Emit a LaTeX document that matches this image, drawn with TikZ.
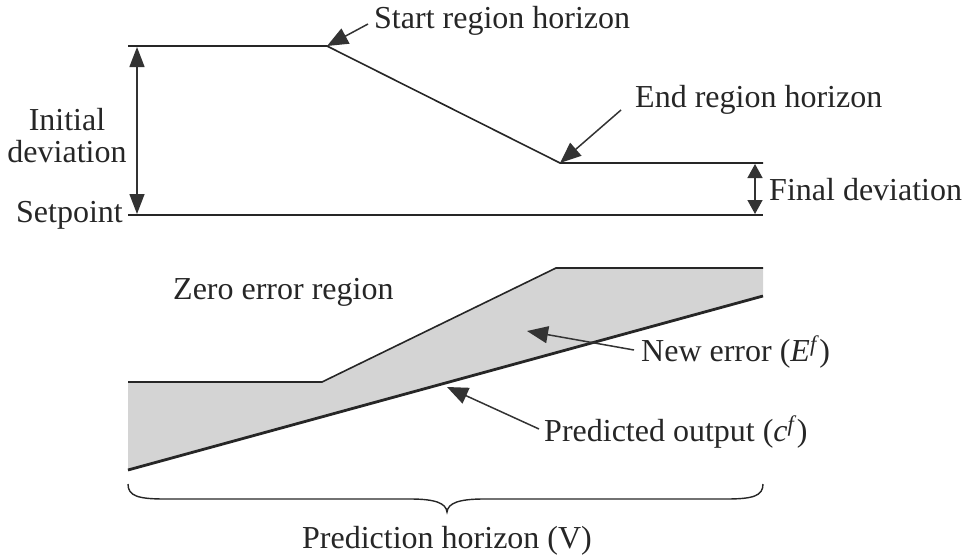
\documentclass[tikz,border=0pt]{standalone}
\usepackage{fontspec}
\setmainfont{Liberation Serif}
\usetikzlibrary{arrows.meta}
\begin{document}
\begin{tikzpicture}[x=1pt,y=-1pt,
  lbl/.style={font=\fontsize{32}{36}\selectfont,inner sep=0pt,text=black!85},
  thin line/.style={line width=1.6pt,black!85},
  thick line/.style={line width=2.8pt,black!85},
  tip/.style={-{Triangle[length=21pt,width=17pt]},line width=1.5pt,black!80},
  dtip/.style={{Triangle[length=20pt,width=15pt]}-{Triangle[length=20pt,width=15pt]},line width=1.4pt,black!80},
  stip/.style={{Triangle[length=14pt,width=15pt]}-{Triangle[length=14pt,width=15pt]},line width=1.4pt,black!80}]
\useasboundingbox (0,0) rectangle (968,557);
% key points
\coordinate (tl) at (128,46);
\coordinate (sr) at (327,46);
\coordinate (er) at (560,163);
\coordinate (tr) at (763,163);
\coordinate (spl) at (128,215);
\coordinate (spr) at (763,215);
\coordinate (ul) at (128,382);
\coordinate (uk) at (322,382);
\coordinate (uk2) at (556,268);
\coordinate (ur) at (763,268);
\coordinate (pl) at (128,470);
\coordinate (pr) at (763,296);
% shaded region
\fill[black!17] (ul) -- (uk) -- (uk2) -- (ur) -- (pr) -- (pl) -- cycle;
% upper plot
\draw[thin line] (tl) -- (sr) -- (er) -- (tr);
\draw[thick line] (spl) -- (spr);
\draw[thin line] (ul) -- (uk) -- (uk2) -- (ur);
\draw[thick line] (pl) -- (pr);
% deviation arrows
\coordinate (ida) at (137,47);
\coordinate (idb) at (137,214);
\draw[dtip] (ida) -- (idb);
\coordinate (fda) at (755,164);
\coordinate (fdb) at (755,214);
\draw[stip] (fda) -- (fdb);
% labels
\node[lbl,anchor=west] (start) at (374,21) {Start region horizon};
\node[lbl,anchor=west] (end) at (635,100) {End region horizon};
\node[lbl,align=center] (init) at (67,136) {Initial\\[-4pt]deviation};
\node[lbl,anchor=east] (setp) at (123,215) {Setpoint};
\node[lbl,anchor=west] (fin) at (769,190) {Final deviation};
\node[lbl,anchor=west] (zero) at (173,292) {Zero error region};
\node[lbl,anchor=west] (newe) at (641,352) {New error (\textit{E}\textsuperscript{\textit{f}})};
\node[lbl,anchor=west] (pred) at (544,432) {Predicted output (\textit{c}\textsuperscript{\textit{f}})};
\node[lbl] (ph) at (447,541) {Prediction horizon (V)};
% label connectors
\coordinate (sa) at (368,24);
\draw[tip] (sa) -- (sr);
\coordinate (ea) at (621,110);
\draw[tip] (ea) -- (er);
\coordinate (na) at (634,350);
\coordinate (nt) at (527,331);
\draw[tip] (na) -- (nt);
\coordinate (pa) at (539,429);
\coordinate (pt) at (447,387);
\draw[tip] (pa) -- (pt);
% brace
\coordinate (bl) at (128,484);
\coordinate (bm) at (447,512);
\coordinate (br) at (763,484);
\draw[line width=1.4pt,black!85] (bl) .. controls (128,496) and (138,499) .. (165,499)
  -- (410,499) .. controls (435,499) and (446,503) .. (bm)
  .. controls (448,503) and (459,499) .. (484,499)
  -- (726,499) .. controls (753,499) and (763,496) .. (br);
\end{tikzpicture}
\end{document}
